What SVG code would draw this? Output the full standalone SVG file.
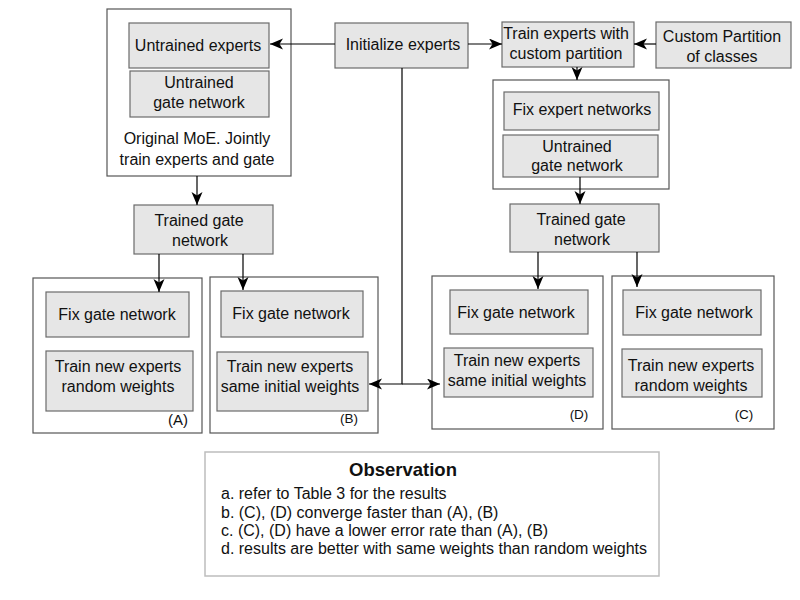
<svg xmlns="http://www.w3.org/2000/svg" width="800" height="600" viewBox="0 0 800 600">
<defs>
<style>
.node{fill:#e6e6e6;stroke:#6b6b6b;stroke-width:1.2}
.cont{fill:#ffffff;stroke:#555555;stroke-width:1.2}
.obs{fill:#ffffff;stroke:#bdbdbd;stroke-width:1.5}
text{font-family:"Liberation Sans",Arial,sans-serif;font-size:16px;fill:#111;text-anchor:middle}
.lbl{font-size:13.5px}
.lblA{font-size:15px}
.left{text-anchor:start}
.title{font-weight:bold;font-size:18.5px}
.conn{fill:none;stroke:#000;stroke-width:1.2}
</style>
<marker id="arr" markerUnits="userSpaceOnUse" markerWidth="14" markerHeight="12" refX="13" refY="5.5" orient="auto">
<path d="M0,0 L13,5.5 L0,11 L3.5,5.5 Z" fill="#000"/>
</marker>
</defs>
<rect width="800" height="600" fill="#ffffff"/>

<g id="moe-container">
<rect class="cont" x="107" y="9" width="184" height="167"/>
<text x="197" y="144">Original MoE. Jointly</text>
<text x="197" y="165">train experts and gate</text>
</g>
<g id="untrained-experts">
<rect class="node" x="129" y="23" width="140" height="45"/>
<text x="198" y="51">Untrained experts</text>
</g>
<g id="untrained-gate-left">
<rect class="node" x="130" y="71" width="139" height="46"/>
<text x="199" y="88">Untrained</text>
<text x="199" y="108">gate network</text>
</g>
<g id="initialize-experts">
<rect class="node" x="335" y="23" width="133" height="45"/>
<text x="403" y="50">Initialize experts</text>
</g>
<g id="train-experts-custom">
<rect class="node" x="502" y="22" width="132" height="45"/>
<text x="566" y="39">Train experts with</text>
<text x="566" y="59">custom partition</text>
</g>
<g id="custom-partition">
<rect class="node" x="656" y="22" width="135" height="46"/>
<text x="722" y="42">Custom Partition</text>
<text x="722" y="62">of classes</text>
</g>
<g id="fix-expert-container">
<rect class="cont" x="493" y="80" width="176" height="109"/>
</g>
<g id="fix-expert-networks">
<rect class="node" x="504" y="92" width="155" height="38"/>
<text x="582" y="115">Fix expert networks</text>
</g>
<g id="untrained-gate-right">
<rect class="node" x="503" y="135" width="155" height="42"/>
<text x="577" y="152">Untrained</text>
<text x="577" y="171">gate network</text>
</g>
<g id="trained-gate-left">
<rect class="node" x="134" y="205" width="139" height="49"/>
<text x="199" y="226">Trained gate</text>
<text x="200" y="246">network</text>
</g>
<g id="trained-gate-right">
<rect class="node" x="510" y="204" width="149" height="48"/>
<text x="581" y="225">Trained gate</text>
<text x="582" y="245">network</text>
</g>

<g id="box-A">
<rect class="cont" x="33" y="278" width="169" height="155"/>
<rect class="node" x="46" y="292" width="143" height="45"/>
<text x="117" y="320">Fix gate network</text>
<rect class="node" x="46" y="351" width="147" height="60"/>
<text x="118" y="372">Train new experts</text>
<text x="118" y="392">random weights</text>
<text class="lblA" x="178" y="425">(A)</text>
</g>
<g id="box-B">
<rect class="cont" x="210" y="277" width="168" height="156"/>
<rect class="node" x="221" y="291" width="142" height="46"/>
<text x="291" y="319">Fix gate network</text>
<rect class="node" x="217" y="352" width="151" height="59"/>
<text x="290" y="372">Train new experts</text>
<text x="290" y="392">same initial weights</text>
<text class="lbl" x="349" y="423">(B)</text>
</g>
<g id="box-D">
<rect class="cont" x="432" y="276" width="171" height="153"/>
<rect class="node" x="450" y="290" width="138" height="44"/>
<text x="516" y="318">Fix gate network</text>
<rect class="node" x="444" y="348" width="149" height="49"/>
<text x="517" y="366">Train new experts</text>
<text x="517" y="386">same initial weights</text>
<text class="lbl" x="579" y="419">(D)</text>
</g>
<g id="box-C">
<rect class="cont" x="612" y="276" width="162" height="153"/>
<rect class="node" x="623" y="290" width="138" height="45"/>
<text x="694" y="318">Fix gate network</text>
<rect class="node" x="622" y="349" width="140" height="48"/>
<text x="691" y="371">Train new experts</text>
<text x="691" y="391">random weights</text>
<text class="lbl" x="744" y="419">(C)</text>
</g>

<g id="observation">
<rect class="obs" x="205" y="452" width="454" height="124"/>
<text class="title" x="403" y="476">Observation</text>
<text class="left" x="221" y="499">a. refer to Table 3 for the results</text>
<text class="left" x="221" y="518">b. (C), (D) converge faster than (A), (B)</text>
<text class="left" x="221" y="536">c. (C), (D) have a lower error rate than (A), (B)</text>
<text class="left" x="221" y="554">d. results are better with same weights than random weights</text>
</g>

<g id="connectors">
<path class="conn" d="M335,44 H270" marker-end="url(#arr)"/>
<path class="conn" d="M468,44 H502" marker-end="url(#arr)"/>
<path class="conn" d="M656,44 H634" marker-end="url(#arr)"/>
<path class="conn" d="M577,67 V80" marker-end="url(#arr)"/>
<path class="conn" d="M197,176 V205" marker-end="url(#arr)"/>
<path class="conn" d="M159,254 V292" marker-end="url(#arr)"/>
<path class="conn" d="M243,254 V290" marker-end="url(#arr)"/>
<path class="conn" d="M580,177 V204" marker-end="url(#arr)"/>
<path class="conn" d="M538,252 V289" marker-end="url(#arr)"/>
<path class="conn" d="M637,252 V287" marker-end="url(#arr)"/>
<path class="conn" d="M402,68 V384 H369" marker-end="url(#arr)"/>
<path class="conn" d="M402,384 H440" marker-end="url(#arr)"/>
</g>
</svg>
